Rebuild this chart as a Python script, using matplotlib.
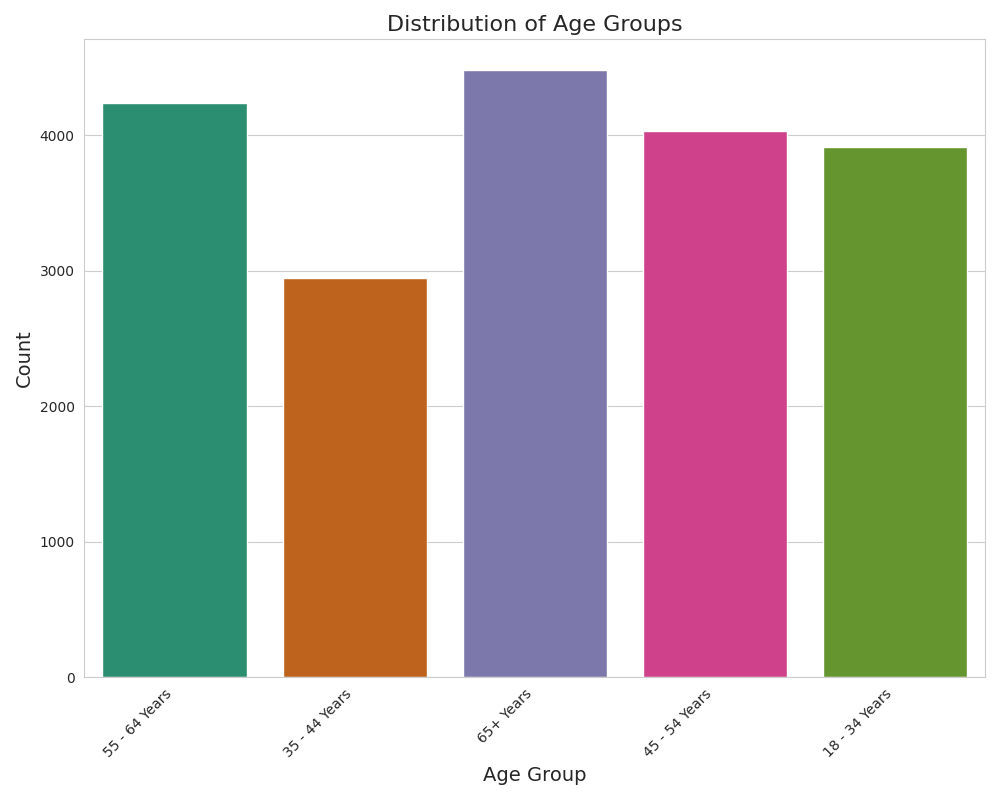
import matplotlib.pyplot as plt
import seaborn as sns

age_groups = ["55 - 64 Years", "35 - 44 Years", "65+ Years", "45 - 54 Years", "18 - 34 Years"]
counts = [4234, 2945, 4482, 4029, 3915]

sns.set_style("whitegrid")
fig, ax = plt.subplots(figsize=(10, 8), dpi=100)
sns.barplot(x=age_groups, y=counts, hue=age_groups, palette="Dark2", legend=False, ax=ax)

ax.set_title("Distribution of Age Groups", fontsize=16)
ax.set_xlabel("Age Group", fontsize=14)
ax.set_ylabel("Count", fontsize=14)
plt.xticks(rotation=45, ha="right")
plt.tight_layout()
plt.savefig("out.png")
